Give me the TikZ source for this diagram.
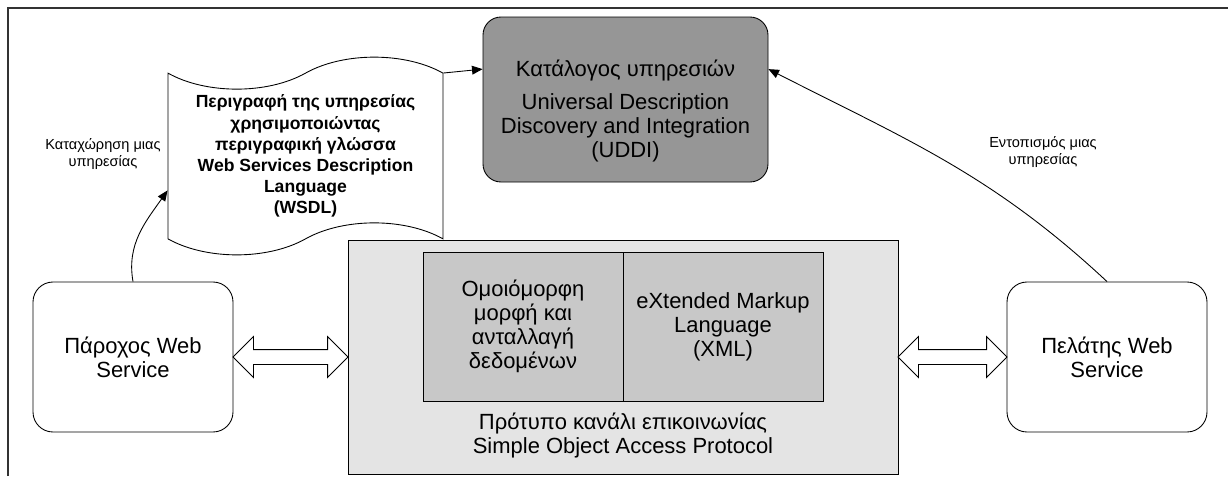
\documentclass[tikz,border=0pt]{standalone}
\usepackage{fontspec}
\setmainfont{Liberation Sans}
\usetikzlibrary{shapes.symbols,shapes.arrows,arrows.meta,calc}
\definecolor{uddigray}{RGB}{150,150,150}
\definecolor{soapgray}{RGB}{228,228,228}
\definecolor{xmlgray}{RGB}{200,200,200}
\definecolor{framegray}{RGB}{50,50,50}
\begin{document}
\begin{tikzpicture}[>={Triangle[length=6pt,width=5pt]},line width=0.5pt,
    every node/.style={font=\fontsize{12.5}{13.7}\selectfont, align=center},
    rbox/.style={draw, rounded corners=0.4cm, minimum width=4cm, minimum height=3cm},
    ibox/.style={draw, fill=xmlgray, minimum width=4cm, minimum height=2.98cm, inner sep=0pt},
    dblarrow/.style={draw, fill=white, double arrow, double arrow head extend=0.26cm, inner xsep=0pt, inner ysep=0.14cm},
    small/.style={font=\fontsize{8.3}{10.2}\selectfont}]
    \useasboundingbox (0,0) rectangle (24.56,-9.52);
    \draw [framegray, line width=0.8pt] (0.16,-9.52) -- (0.16,-0.16) -- (24.56,-0.16);
    \node [draw, fill=uddigray, rounded corners=0.36cm, minimum width=5.7cm, minimum height=3.3cm] (uddi) at (12.51,-1.99) {};
    \node (udditext) at ([yshift=-0.23cm]uddi.center) {Κατάλογος υπηρεσιών\\[5pt] Universal Description\\Discovery and Integration\\(UDDI)};
    \node [draw, fill=white, tape, tape bend height=0.64cm, minimum width=5.5cm, minimum height=3.12cm, font=\bfseries\fontsize{10}{12}\selectfont] (wsdl) at (6.11,-3.12) {Περιγραφή της υπηρεσίας\\χρησιμοποιώντας\\περιγραφική γλώσσα\\Web Services Description\\Language\\(WSDL)};
    \node [rbox] (provider) at (2.66,-7.14) {Πάροχος Web\\Service};
    \node [rbox] (client) at (22.14,-7.14) {Πελάτης Web\\Service};
    \node [draw, fill=soapgray, minimum width=11cm, minimum height=4.68cm] (soap) at (12.46,-7.14) {};
    \node [ibox] (data) at (10.46,-6.53) {Ομοιόμορφη\\μορφή και\\ανταλλαγή\\δεδομένων};
    \node [ibox] (xml) at (14.46,-6.53) {eXtended Markup\\Language\\(XML)};
    \node (soaptext) at (12.46,-8.71) {Πρότυπο κανάλι επικοινωνίας\\Simple Object Access Protocol};
    \node [dblarrow, minimum width=0.8cm, minimum height=2.3cm] (arrl) at ($(provider.east)!0.5!(soap.west)$) {};
    \node [dblarrow, minimum width=0.8cm, minimum height=2.18cm] (arrr) at ($(soap.east)!0.5!(client.west)$) {};
    \draw [->] (wsdl.north east) -- (uddi.168);
    \draw [->] (provider.north) to [out=100,in=235] (wsdl.194);
    \draw [->] (client.north) to [out=137,in=-27] (uddi.12);
    \node [small] (reglbl) at (2.06,-3.08) {Καταχώρηση μιας\\υπηρεσίας};
    \node [small] (findlbl) at (20.86,-3.04) {Εντοπισμός μιας\\υπηρεσίας};
\end{tikzpicture}
\end{document}
